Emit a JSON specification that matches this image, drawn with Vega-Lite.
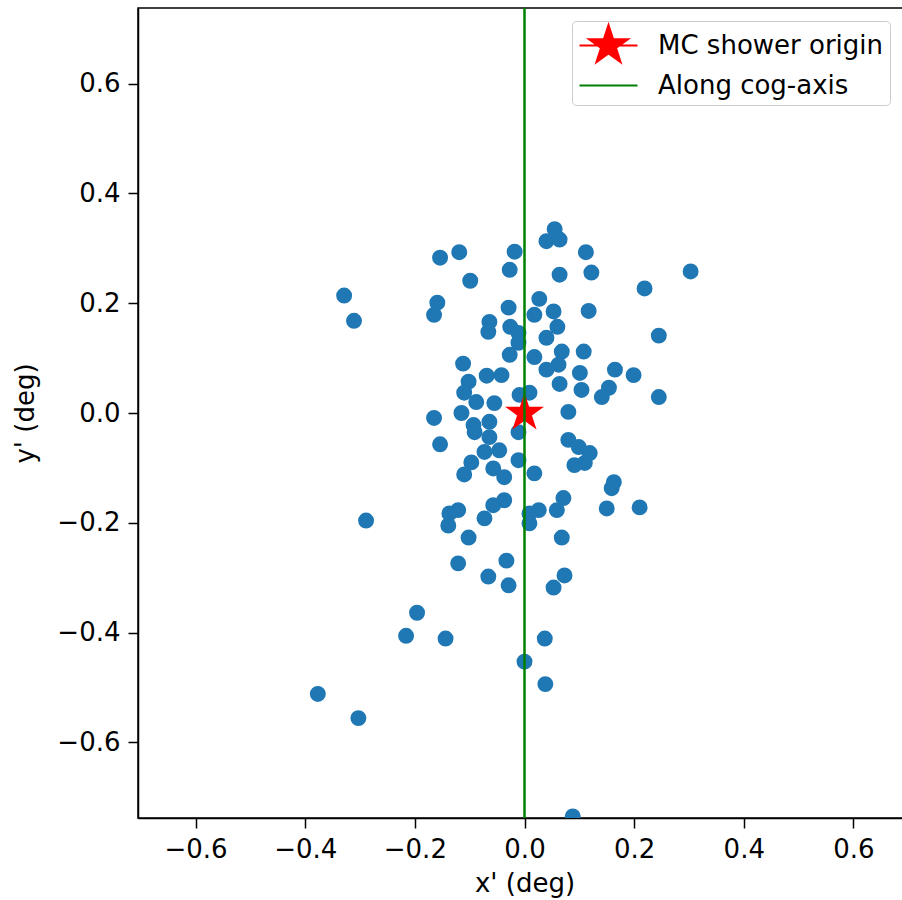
{
  "$schema": "https://vega.github.io/schema/vega-lite/v6.json",
  "width": 773,
  "height": 810,
  "autosize": "none",
  "padding": {"left": 138, "top": 8, "right": 0, "bottom": 82},
  "background": "white",
  "config": {
    "font": "DejaVu Sans",
    "view": {"stroke": "black", "strokeWidth": 1.5},
    "axis": {
      "grid": false,
      "labelFont": "DejaVu Sans",
      "titleFont": "DejaVu Sans",
      "labelFontSize": 26,
      "titleFontSize": 26,
      "titleFontWeight": "normal",
      "labelColor": "black",
      "titleColor": "black",
      "domainColor": "black",
      "domainWidth": 1.5,
      "tickColor": "black",
      "tickWidth": 1.5,
      "tickSize": 10,
      "labelPadding": 8
    }
  },
  "datasets": {
    "pts": [
      {"x":0.055,"y":0.335},{"x":0.040,"y":0.313},{"x":0.064,"y":0.316},{"x":-0.119,"y":0.293},
      {"x":-0.154,"y":0.283},{"x":-0.018,"y":0.294},{"x":-0.027,"y":0.261},{"x":-0.099,"y":0.241},
      {"x":0.064,"y":0.252},{"x":0.122,"y":0.256},{"x":0.112,"y":0.293},{"x":0.027,"y":0.208},
      {"x":-0.159,"y":0.201},{"x":-0.165,"y":0.179},{"x":-0.029,"y":0.192},{"x":0.018,"y":0.179},
      {"x":0.053,"y":0.185},{"x":0.060,"y":0.157},{"x":-0.064,"y":0.166},{"x":-0.066,"y":0.148},
      {"x":-0.026,"y":0.157},{"x":-0.011,"y":0.146},{"x":0.040,"y":0.137},{"x":0.117,"y":0.186},
      {"x":-0.011,"y":0.128},{"x":-0.027,"y":0.106},{"x":0.018,"y":0.102},{"x":0.068,"y":0.112},
      {"x":0.108,"y":0.112},{"x":0.040,"y":0.079},{"x":0.062,"y":0.088},{"x":0.165,"y":0.079},
      {"x":0.101,"y":0.073},{"x":-0.112,"y":0.090},{"x":-0.102,"y":0.057},{"x":-0.069,"y":0.068},
      {"x":-0.042,"y":0.069},{"x":0.064,"y":0.053},{"x":-0.110,"y":0.037},{"x":-0.088,"y":0.020},
      {"x":-0.055,"y":0.018},{"x":-0.009,"y":0.033},{"x":0.009,"y":0.037},{"x":0.104,"y":0.042},
      {"x":0.141,"y":0.029},{"x":0.154,"y":0.046},{"x":0.080,"y":0.002},{"x":-0.115,"y":0.000},
      {"x":-0.165,"y":-0.009},{"x":-0.329,"y":0.214},{"x":-0.311,"y":0.168},{"x":0.303,"y":0.258},
      {"x":0.219,"y":0.227},{"x":0.245,"y":0.141},{"x":0.199,"y":0.069},{"x":0.245,"y":0.029},
      {"x":-0.093,"y":-0.022},{"x":-0.091,"y":-0.035},{"x":-0.064,"y":-0.016},{"x":-0.064,"y":-0.044},
      {"x":-0.154,"y":-0.057},{"x":-0.073,"y":-0.071},{"x":-0.046,"y":-0.068},{"x":-0.011,"y":-0.086},
      {"x":-0.097,"y":-0.090},{"x":-0.110,"y":-0.112},{"x":-0.057,"y":-0.101},{"x":-0.037,"y":-0.117},
      {"x":0.018,"y":-0.110},{"x":-0.011,"y":-0.035},{"x":0.080,"y":-0.049},{"x":0.099,"y":-0.062},
      {"x":0.119,"y":-0.073},{"x":0.110,"y":-0.091},{"x":0.091,"y":-0.095},{"x":0.163,"y":-0.126},
      {"x":0.159,"y":-0.137},{"x":0.150,"y":-0.174},{"x":0.071,"y":-0.155},{"x":0.059,"y":-0.177},
      {"x":0.026,"y":-0.177},{"x":0.009,"y":-0.183},{"x":0.009,"y":-0.201},{"x":-0.037,"y":-0.159},
      {"x":-0.057,"y":-0.168},{"x":-0.073,"y":-0.192},{"x":-0.121,"y":-0.177},{"x":-0.137,"y":-0.183},
      {"x":-0.139,"y":-0.205},{"x":-0.102,"y":-0.227},{"x":0.068,"y":-0.227},{"x":-0.121,"y":-0.274},
      {"x":-0.033,"y":-0.269},{"x":-0.066,"y":-0.298},{"x":-0.029,"y":-0.314},{"x":0.073,"y":-0.296},
      {"x":0.053,"y":-0.318},{"x":0.210,"y":-0.172},{"x":-0.289,"y":-0.196},{"x":-0.196,"y":-0.364},
      {"x":-0.216,"y":-0.406},{"x":-0.144,"y":-0.411},{"x":-0.377,"y":-0.512},{"x":-0.303,"y":-0.556},
      {"x":0.037,"y":-0.411},{"x":0.000,"y":-0.453},{"x":0.038,"y":-0.494},{"x":0.088,"y":-0.735}
    ],
    "origin": [{"x": 0, "y": 0, "series": "MC shower origin"}],
    "cog": [{"x": 0, "series": "Along cog-axis"}]
  },
  "layer": [
    {
      "data": {"name": "pts"},
      "mark": {"type": "point", "filled": true, "color": "#1f77b4", "opacity": 1, "size": 254, "clip": true},
      "encoding": {
        "x": {"field": "x", "type": "quantitative", "scale": {"domain": [-0.705, 0.705], "nice": false, "zero": false},
              "axis": {"values": [-0.6, -0.4, -0.2, 0, 0.2, 0.4, 0.6], "format": ".1f", "title": "x' (deg)", "titlePadding": 8}},
        "y": {"field": "y", "type": "quantitative", "scale": {"domain": [-0.738, 0.738], "nice": false, "zero": false},
              "axis": {"values": [-0.6, -0.4, -0.2, 0, 0.2, 0.4, 0.6], "format": ".1f", "title": "y' (deg)", "titlePadding": 18}}
      }
    },
    {
      "data": {"name": "origin"},
      "mark": {"type": "point", "filled": true, "opacity": 1, "size": 1225, "strokeWidth": 0},
      "encoding": {
        "x": {"field": "x", "type": "quantitative"},
        "y": {"field": "y", "type": "quantitative"},
        "color": {"field": "series", "type": "nominal",
                  "scale": {"domain": ["MC shower origin", "Along cog-axis"], "range": ["red", "green"]},
                  "legend": {
                    "orient": "none", "legendX": 434, "legendY": 13, "title": null,
                    "labelFontSize": 26, "labelFont": "DejaVu Sans", "labelColor": "black", "labelLimit": 500,
                    "symbolSize": 1225, "symbolStrokeWidth": 2, "padding": 6, "symbolOffset": 12,
                    "strokeColor": "#cccccc", "fillColor": "white", "cornerRadius": 4,
                    "labelOffset": 31, "rowPadding": 0
                  }},
        "shape": {"field": "series", "type": "nominal",
                  "scale": {"domain": ["MC shower origin", "Along cog-axis"],
                            "range": ["M0,-1.171L0.263,-0.362L1.114,-0.362L0.425,0.138L0.689,0.947L0,0.447L-0.689,0.947L-0.425,0.138L-1.114,-0.362L-0.263,-0.362ZM-1.657,0L1.657,0", "M-1.657,0L1.657,0"]},
                  "legend": {
                    "orient": "none", "legendX": 434, "legendY": 13, "title": null,
                    "labelFontSize": 26, "labelFont": "DejaVu Sans", "labelColor": "black", "labelLimit": 500,
                    "symbolSize": 1225, "symbolStrokeWidth": 2, "padding": 6, "symbolOffset": 12,
                    "strokeColor": "#cccccc", "fillColor": "white", "cornerRadius": 4,
                    "labelOffset": 31, "rowPadding": 0
                  }}
      }
    },
    {
      "data": {"name": "cog"},
      "mark": {"type": "rule", "strokeWidth": 2.5},
      "encoding": {
        "x": {"field": "x", "type": "quantitative"},
        "color": {"field": "series", "type": "nominal"}
      }
    }
  ]
}
